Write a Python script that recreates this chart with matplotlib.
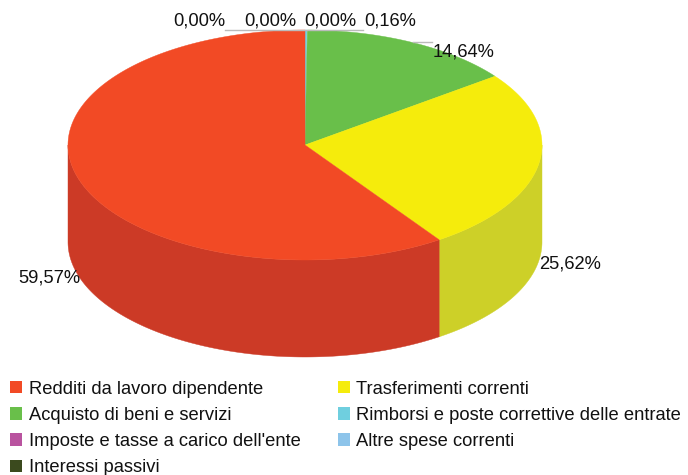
import numpy as np
import matplotlib
matplotlib.use("Agg")
import matplotlib.pyplot as plt
from matplotlib.patches import Patch

plt.rcParams["font.family"] = ["Liberation Sans", "DejaVu Sans"]

categories = [
    "Redditi da lavoro dipendente",
    "Acquisto di beni e servizi",
    "Imposte e tasse a carico dell'ente",
    "Interessi passivi",
    "Trasferimenti correnti",
    "Rimborsi e poste correttive delle entrate",
    "Altre spese correnti",
]
values = [59.57, 14.64, 0.00, 0.00, 25.62, 0.16, 0.00]
colors = ["#F24A25", "#69BF4A", "#B9539F", "#3B4A1E", "#F5EC0C", "#6FCFDF", "#8DC4EA"]
side_colors = ["#CC3A26", "#58A03E", "#9B468B", "#323F1A", "#CDD028", "#5DAEBB", "#76A5C5"]

# slices run clockwise from 12 o'clock in this order
draw_order = [5, 1, 4, 0, 2, 3, 6]
label_pos = {
    5: (390, 21),
    1: (464, 52),
    4: (570, 264),
    0: (49, 278),
    2: (199, 21),
    3: (270, 21),
    6: (330, 21),
}

CX, CY, RX, RY, DEPTH = 305, 145, 237, 115, 97


def rim(t):
    # t is the clockwise angle from the top, in radians
    return CX + RX * np.sin(t), CY - RY * np.cos(t)


fig = plt.figure(figsize=(6.88, 4.75), dpi=100)
ax = fig.add_axes([0, 0, 1, 1])
ax.set_xlim(0, 688)
ax.set_ylim(475, 0)
ax.axis("off")

start = 0.0
for i in draw_order:
    t0 = start
    t1 = start + values[i] / sum(values) * 2 * np.pi
    start = t1

    # side wall, only the front half of the rim shows
    a, b = max(t0, np.pi / 2), min(t1, 3 * np.pi / 2)
    if b > a:
        t = np.linspace(a, b, 200)
        x, y = rim(t)
        ax.fill(np.r_[x, x[::-1]], np.r_[y, y[::-1] + DEPTH],
                color=side_colors[i], lw=0.3, zorder=1)

    if t1 > t0:
        t = np.linspace(t0, t1, 300)
        x, y = rim(t)
        ax.fill(np.r_[CX, x], np.r_[CY, y], color=colors[i], lw=0.3, zorder=2)

for i, (lx, ly) in label_pos.items():
    ax.text(lx, ly, f"{values[i]:.2f}%".replace(".", ","), ha="center", va="center",
            fontsize=13.2, color="#111111", zorder=4)

# leader lines
ax.plot([225, 363], [30, 30], color="#BBBBBB", lw=1, zorder=3)
ax.plot([413, 432], [42, 42], color="#BBBBBB", lw=1, zorder=3)

handles = [Patch(facecolor=c, edgecolor="none") for c in colors]
ax.legend(handles, categories, ncol=2, loc="upper left",
          bbox_to_anchor=(-4.5 / 688, 1 - 366 / 475), frameon=False,
          fontsize=13.2, handlelength=0.65, handleheight=0.65, handletextpad=0.38,
          labelspacing=0.5, columnspacing=2.0, borderpad=0.3, labelcolor="#111111")

fig.savefig("out.png", dpi=100)
